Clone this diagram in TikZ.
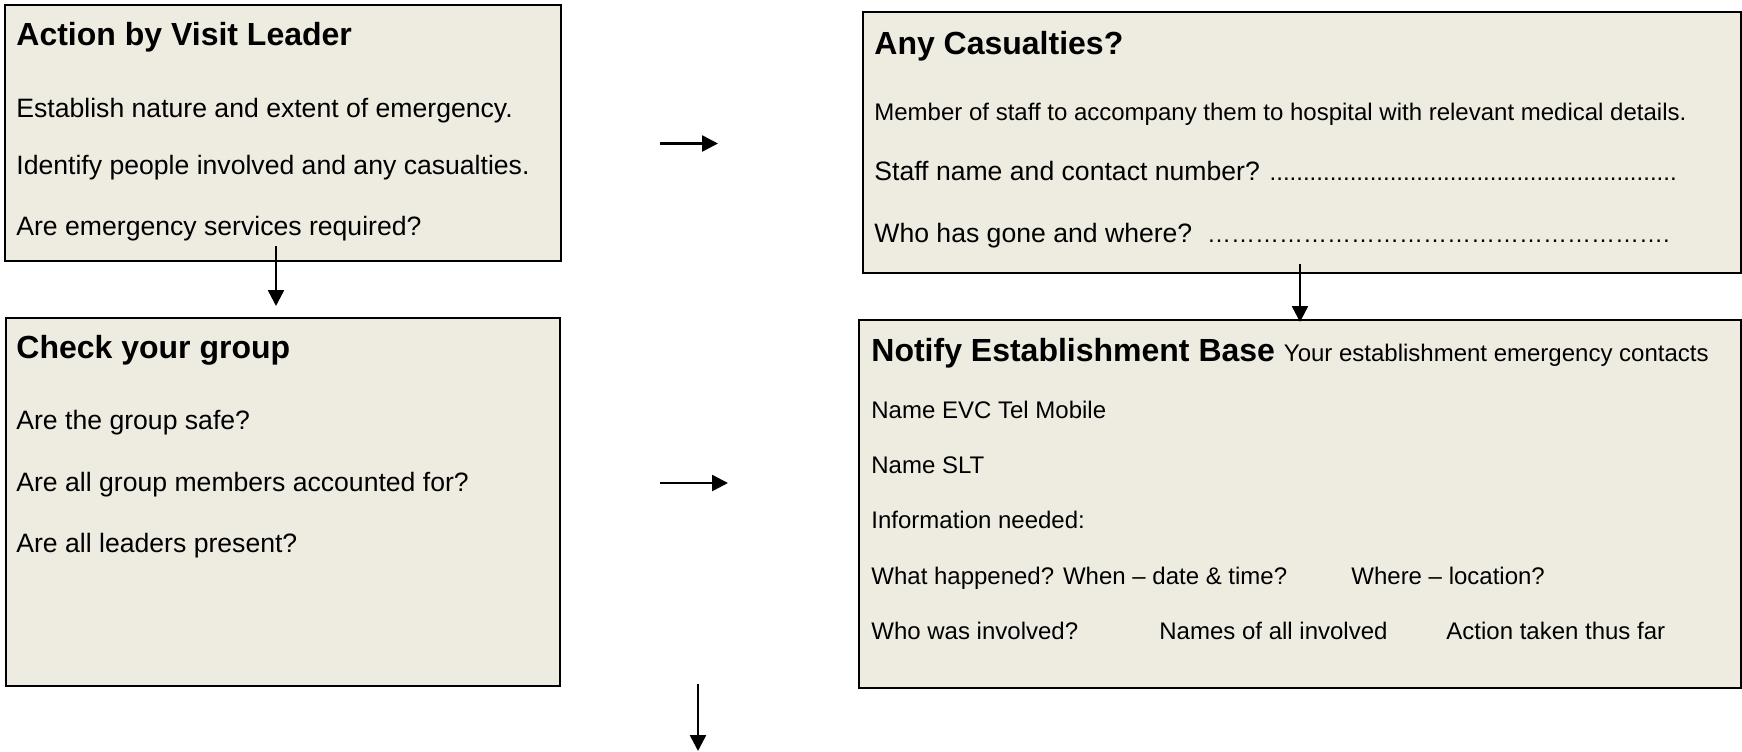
\documentclass[tikz,border=0pt]{standalone}
\usepackage{fontspec}
\setmainfont{Liberation Sans}
\usepackage{tikz}
\usetikzlibrary{arrows.meta, shapes}
\definecolor{panelfill}{HTML}{EEECE1}

\begin{document}
\begin{tikzpicture}[x=0.5pt,y=-0.5pt]
		\tikzstyle{panel} = [draw, fill=panelfill, line width=1pt, rectangle, inner sep=0pt]
		\tikzstyle{head} = [anchor=base west, inner sep=0pt, font=\fontsize{16}{19}\selectfont\bfseries]
		\tikzstyle{leftline} = [anchor=base west, inner sep=0pt, font=\fontsize{13.3}{16}\selectfont]
		\tikzstyle{rightline} = [anchor=base west, inner sep=0pt, font=\fontsize{12}{14}\selectfont]
		\tikzstyle{flow} = [draw, ->, >={Triangle[length=8pt,width=8pt]}, line width=1.25pt]
				\useasboundingbox (0,0) rectangle (1742,751);
				\node[panel, minimum width=278pt, minimum height=128pt] (leader) at (282.5,133) {};
				\node[panel, minimum width=277pt, minimum height=184pt] (group) at (282.5,501.5) {};
				\node[panel, minimum width=439pt, minimum height=130.5pt] (casualties) at (1301.5,142) {};
				\node[panel, minimum width=441pt, minimum height=184.25pt] (base) at (1299.5,503.75) {};
				\node[head] (leaderhead) at (16,45) {Action by Visit Leader};
				\node[leftline] (leader1) at (16,117) {Establish nature and extent of emergency.};
				\node[leftline] (leader2) at (16,174) {Identify people involved and any casualties.};
				\node[leftline] (leader3) at (16,235) {Are emergency services required?};
				\node[head] (grouphead) at (16,358) {Check your group};
				\node[leftline] (group1) at (16,429) {Are the group safe?};
				\node[leftline] (group2) at (16,491) {Are all group members accounted for?};
				\node[leftline] (group3) at (16,552) {Are all leaders present?};
				\node[head] (casualtieshead) at (874,54) {Any Casualties?};
				\node[rightline] (casualties1) at (874,120)
					{Member of staff to accompany them to hospital with relevant medical details.};
				\node[leftline] (casualties2) at (874,180)
					{Staff name and contact number? {\fontsize{12}{14}\selectfont\foreach \k in {1,...,61}{.}}};
				\node[leftline] (casualties3) at (874,242)
					{Who has gone and where?\ \ {\fontsize{12}{14}\selectfont\foreach \k in {1,...,19}{…}.}};
				\node[head] (basehead) at (871,361)
					{Notify Establishment Base {\fontsize{12}{14}\selectfont\mdseries Your establishment emergency contacts}};
				\node[rightline] (base1) at (871,418) {Name EVC Tel Mobile};
				\node[rightline] (base2) at (871,473) {Name SLT};
				\node[rightline] (base3) at (871,528) {Information needed:};
				\node[rightline] (base4a) at (871,584) {What happened? When – date \& time?};
				\node[rightline] (base4b) at (1351,584) {Where – location?};
				\node[rightline] (base5a) at (871,639) {Who was involved?};
				\node[rightline] (base5b) at (1159,639) {Names of all involved};
				\node[rightline] (base5c) at (1446,639) {Action taken thus far};
				\coordinate (down1s) at (276,246);
				\coordinate (down1e) at (276,306);
				\coordinate (right1s) at (660,143.5);
				\coordinate (right1e) at (718,143.5);
				\coordinate (right2s) at (660,483);
				\coordinate (right2e) at (728,483);
				\coordinate (down2s) at (1300,264);
				\coordinate (down2e) at (1300,322);
				\coordinate (down3s) at (698,684);
				\coordinate (down3e) at (698,751);
				\path[flow] (down1s)--(down1e);
				\path[flow] (right1s)--(right1e);
				\path[flow] (right2s)--(right2e);
				\path[flow] (down2s)--(down2e);
				\path[flow] (down3s)--(down3e);
	\end{tikzpicture}
\end{document}
